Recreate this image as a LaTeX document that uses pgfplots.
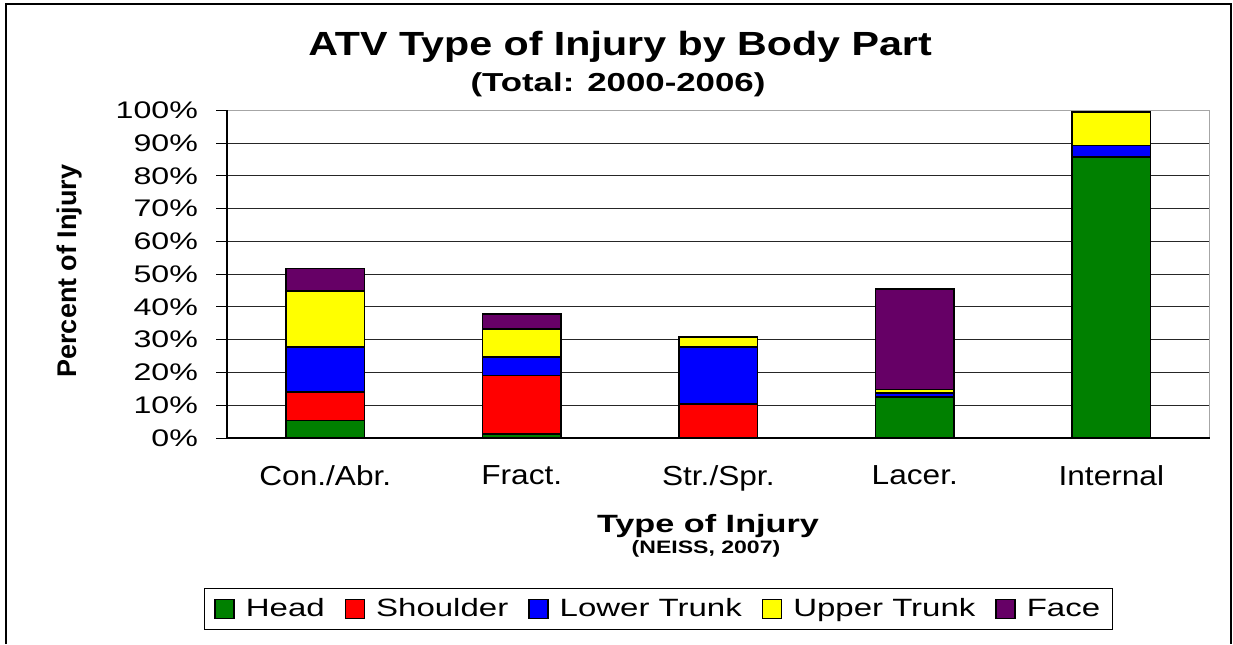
\documentclass[border=0pt]{standalone}
\usepackage{graphicx}
\usepackage{pgfplots}
\pgfplotsset{compat=1.18}
\usepackage{fontspec}
\setmainfont{Liberation Sans}
\definecolor{cHead}{HTML}{008000}
\definecolor{cShoulder}{HTML}{FF0000}
\definecolor{cLower}{HTML}{0000FF}
\definecolor{cUpper}{HTML}{FFFF00}
\definecolor{cFace}{HTML}{660066}
\newcommand{\xs}[2]{\scalebox{#1}[1]{#2}}
\begin{document}
\begin{tikzpicture}
\useasboundingbox (0,0) rectangle (616.5pt,322pt);
\draw[line width=0.75pt] (3pt,0) -- (3pt,320pt) -- (615.5pt,320pt) -- (615.5pt,0);
\node[anchor=base,font=\bfseries\fontsize{16.75}{19}\selectfont] at (310pt,294pt) {\xs{1.23}{ATV Type of Injury by Body Part}};
\node[anchor=base,font=\bfseries\fontsize{13}{15}\selectfont] at (309pt,276pt) {\xs{1.34}{(Total: 2000-2006)}};
\node[anchor=base,font=\bfseries\fontsize{12.5}{15}\selectfont] at (354pt,56pt) {\xs{1.37}{Type of Injury}};
\node[anchor=base,font=\bfseries\fontsize{9}{11}\selectfont] at (353pt,45.5pt) {\xs{1.28}{(NEISS, 2007)}};
\node[rotate=90,font=\bfseries\fontsize{13.5}{15}\selectfont] at (35pt,186.5pt) {Percent of Injury};
\begin{axis}[
  at={(113.5pt,103pt)}, anchor=south west,
  scale only axis, width=491.3pt, height=163.85pt,
  ybar stacked, bar width=0.4,
  xmin=-0.5, xmax=4.5, ymin=0, ymax=100,
  tick pos=left,
  xtick={0,1,2,3,4},
  xticklabels={\xs{1.15}{Con./Abr.}, \xs{1.15}{Fract.}, \xs{1.15}{Str./Spr.}, \xs{1.15}{Lacer.}, \xs{1.15}{Internal}},
  major x tick style={draw=none},
  extra x ticks={-0.5,0.5,1.5,2.5,3.5,4.5},
  extra x tick labels={},
  extra x tick style={major tick length=4pt, tick align=outside, xmajorgrids=false, tick style={black, line width=0.5pt}},
  ytick={0,10,...,100},
  yticklabel={\xs{1.34}{\pgfmathprintnumber{\tick}\%}},
  tick align=outside, major tick length=5.5pt,
  tick style={black, line width=0.5pt},
  ymajorgrids, major grid style={black!85, line width=0.5pt},
  axis line style={gray!70, line width=0.75pt},
  yticklabel style={font=\fontsize{12}{14}\selectfont, xshift=-5.5pt},
  xticklabel style={font=\fontsize{13.75}{16}\selectfont, yshift=-5pt},
  /pgf/number format/assume math mode=true,
  legend columns=5,
  legend style={at={(0.439,-0.523)}, anchor=center, draw=black, line width=0.5pt,
    font=\fontsize{12.5}{15}\selectfont, inner xsep=5pt, inner ysep=3pt,
    nodes={inner xsep=1pt},
    /tikz/every odd column/.append style={column sep=4.5pt},
    /tikz/every even column/.append style={column sep=9pt}},
  legend image code/.code={\draw[#1, draw=black, line width=0.7pt] (0pt,-4.5pt) rectangle (9.5pt,5pt);},
  every axis plot/.append style={draw=black, line width=0.8pt},
  after end axis/.code={
    \draw[black, line width=0.75pt] (rel axis cs:0,1) -- (rel axis cs:0,0) -- (rel axis cs:1,0);
  },
]
\addplot[fill=cHead] coordinates {(0,5.3) (1,1.2) (2,0) (3,12.4) (4,85.8)};
\addplot[fill=cShoulder] coordinates {(0,8.7) (1,17.9) (2,10.3) (3,0.3) (4,0)};
\addplot[fill=cLower] coordinates {(0,13.7) (1,5.6) (2,17.4) (3,1.1) (4,3.5)};
\addplot[fill=cUpper] coordinates {(0,17.2) (1,8.5) (2,3.1) (3,1.0) (4,10.2)};
\addplot[fill=cFace] coordinates {(0,6.8) (1,4.6) (2,0) (3,30.7) (4,0)};
\legend{\xs{1.32}{Head}, \xs{1.32}{Shoulder}, \xs{1.32}{Lower Trunk}, \xs{1.32}{Upper Trunk}, \xs{1.32}{Face}}
\end{axis}
\end{tikzpicture}
\end{document}
